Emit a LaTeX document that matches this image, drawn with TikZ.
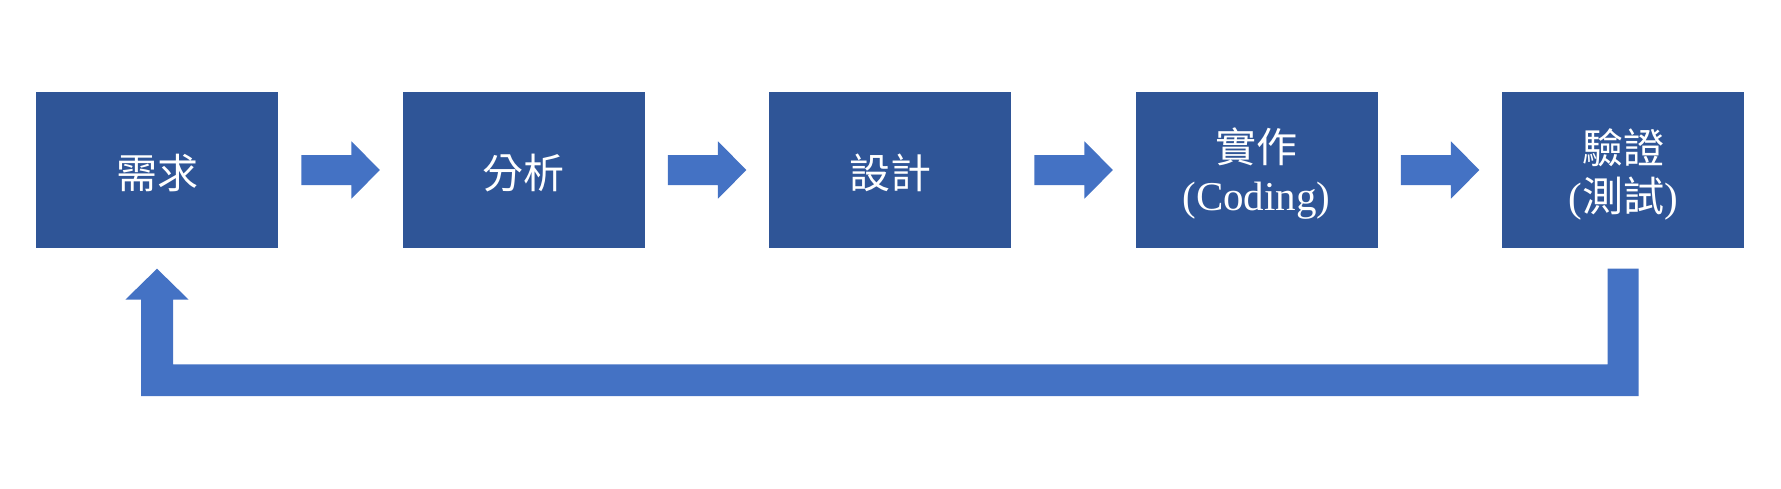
\documentclass[tikz,border=0pt]{standalone}
\usepackage{fontspec}
\setmainfont{Liberation Serif}
\newfontfamily\cjk{Noto Sans CJK TC}
\usetikzlibrary{calc}
\definecolor{boxblue}{HTML}{2F5597}
\definecolor{arrblue}{HTML}{4472C4}
\tikzset{
  stagebox/.style={fill=boxblue, draw=none, minimum width=121pt, minimum height=78pt,
    inner sep=0pt},
  stagetext/.style={text=white, align=center, inner sep=0pt,
    font=\fontsize{20.5pt}{24pt}\selectfont},
  arrfill/.style={fill=arrblue, draw=none}
}
\begin{document}
\begin{tikzpicture}[x=0.5pt,y=-0.5pt]
\useasboundingbox (0,0) rectangle (1781,488);
\node[stagebox] (b1) at (157,170) {};
\node[stagebox] (b2) at (523.5,170) {};
\node[stagebox] (b3) at (890,170) {};
\node[stagebox] (b4) at (1256.5,170) {};
\node[stagebox] (b5) at (1623,170) {};
\node[stagetext] (t1) at ([yshift=-1.5pt]b1.center) {\cjk 需求};
\node[stagetext] (t2) at ([yshift=-1.5pt]b2.center) {\cjk 分析};
\node[stagetext] (t3) at ([yshift=-1.5pt]b3.center) {\cjk 設計};
\node[stagetext] (t4) at ([yshift=-2pt]b4.center) {{\cjk 實作}\\(Coding)};
\node[stagetext] (t5) at ([yshift=-2pt]b5.center) {{\cjk 驗證}\\({\cjk 測試})};
\foreach \a/\b in {b1/b2,b2/b3,b3/b4,b4/b5}{
  \fill[arrfill] ($(\a.east)+(23,-15)$) -- ++(50,0) -- ++(0,-13.7) -- ++(28.5,28.7)
    -- ++(-28.5,28.7) -- ++(0,-13.7) -- ++(-50,0) -- cycle;
}
\fill[arrfill] ($(b5.south)+(15.5,20.3)$) -- ($(b5.south)+(15.5,147.7)$)
  -- ($(b1.south)+(-16,147.7)$) -- ($(b1.south)+(-16,51.3)$)
  -- ($(b1.south)+(-31.7,51.3)$) -- ($(b1.south)+(0,20.3)$)
  -- ($(b1.south)+(31.7,51.3)$) -- ($(b1.south)+(16,51.3)$)
  -- ($(b1.south)+(16,116)$) -- ($(b5.south)+(-15.5,116)$)
  -- ($(b5.south)+(-15.5,20.3)$) -- cycle;
\end{tikzpicture}
\end{document}
